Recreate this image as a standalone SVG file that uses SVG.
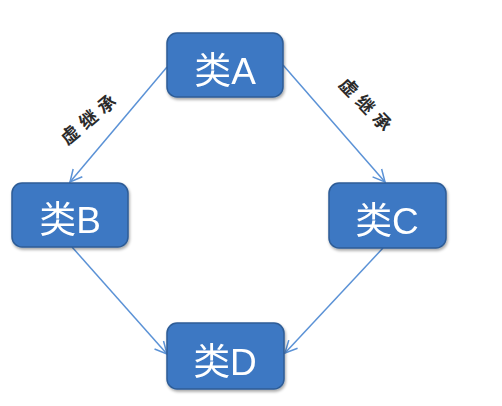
<svg xmlns="http://www.w3.org/2000/svg" width="502" height="406" viewBox="0 0 502 406">
<defs>
<style>
.node rect{fill:#3C78C3;stroke:#2D5C96;stroke-width:1.5}
.node text{fill:#FFFFFF;font-family:"Liberation Sans","Noto Sans CJK SC",sans-serif;font-size:37px;text-anchor:middle}
.edge{stroke:#5B92D6;stroke-width:1.5;fill:none;marker-end:url(#arr)}
.lbl{fill:#2A2A2A;font-family:"Noto Sans CJK SC",sans-serif;font-size:18px;font-weight:bold;letter-spacing:6px;text-anchor:middle}
</style>
<marker id="arr" markerWidth="16" markerHeight="16" refX="13" refY="7" orient="auto" markerUnits="userSpaceOnUse">
<path d="M1,1 L13,7 L1,13" fill="none" stroke="#5B92D6" stroke-width="1.5"/>
</marker>
<filter id="sh" x="-10%" y="-10%" width="130%" height="140%">
<feGaussianBlur in="SourceAlpha" stdDeviation="1.5"/>
<feOffset dx="1" dy="2" result="b"/>
<feComponentTransfer><feFuncA type="linear" slope="0.35"/></feComponentTransfer>
<feMerge><feMergeNode/><feMergeNode in="SourceGraphic"/></feMerge>
</filter>
</defs>
<rect width="502" height="406" fill="#FFFFFF"/>
<g id="connectors">
<line class="edge" x1="167" y1="67" x2="70" y2="182"/>
<line class="edge" x1="283" y1="65" x2="385" y2="182"/>
<line class="edge" x1="72" y1="247" x2="167" y2="354"/>
<line class="edge" x1="383" y1="248" x2="285" y2="353"/>
<text class="lbl" transform="translate(91,118) rotate(-40)" y="6">虚继承</text>
<text class="lbl" transform="translate(367,107) rotate(46)" y="6">虚继承</text>
</g>
<g id="nodeA" class="node" filter="url(#sh)">
<rect x="167" y="33" width="116" height="64" rx="10"/>
<text x="225" y="84">类A</text>
</g>
<g id="nodeB" class="node" filter="url(#sh)">
<rect x="12" y="183" width="116" height="64" rx="10"/>
<text x="70" y="233">类B</text>
</g>
<g id="nodeC" class="node" filter="url(#sh)">
<rect x="329" y="183" width="117" height="65" rx="10"/>
<text x="387" y="234">类C</text>
</g>
<g id="nodeD" class="node" filter="url(#sh)">
<rect x="167" y="323" width="117" height="66" rx="10"/>
<text x="225" y="375">类D</text>
</g>
</svg>
